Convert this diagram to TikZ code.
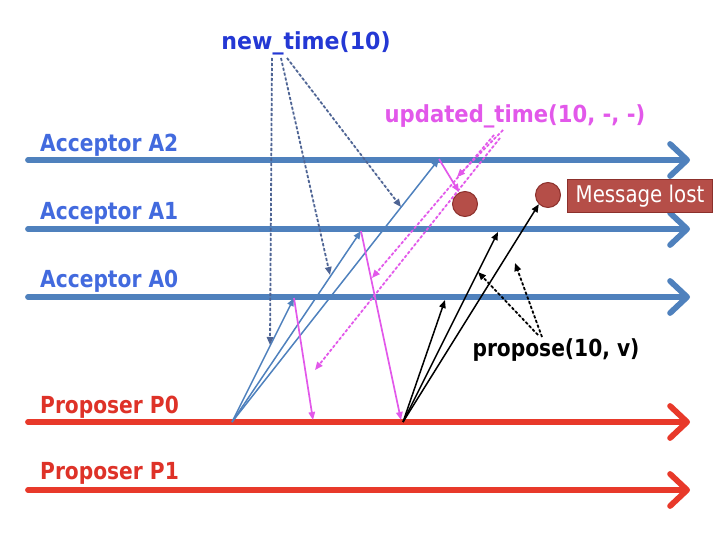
\documentclass[tikz,border=0pt]{standalone}
\usepackage{fontspec}
\setmainfont{DejaVu Sans}[FakeStretch=0.86]
\newfontfamily\widefont{DejaVu Sans}[FakeStretch=0.94]
\newfontfamily\midfont{DejaVu Sans}[FakeStretch=0.90]
\usetikzlibrary{arrows.meta}
\definecolor{lineblue}{RGB}{79,129,189}
\definecolor{labblue}{RGB}{66,106,222}
\definecolor{ntblue}{RGB}{36,56,212}
\definecolor{dashblue}{RGB}{78,100,148}
\definecolor{mag}{RGB}{226,88,234}
\definecolor{tred}{RGB}{232,57,42}
\definecolor{labred}{RGB}{222,50,40}
\definecolor{lostfill}{RGB}{181,78,72}
\definecolor{lostdraw}{RGB}{140,48,44}
\begin{document}
\begin{tikzpicture}[x=1pt,y=-1pt,
  timeline/.style={line width=5.8pt,line cap=round,-{Straight Barb[length=17pt,width=32pt,round]}},
  accline/.style={timeline,draw=lineblue},
  propline/.style={timeline,draw=tred},
  lab/.style={anchor=west,font=\bfseries\fontsize{23.5}{26}\selectfont,inner sep=0pt},
  msg/.style={line width=1.5pt,-{Triangle[length=8pt,width=6.5pt]}},
  bluemsg/.style={msg,draw=lineblue,fill=lineblue},
  magmsg/.style={msg,line width=1.7pt,draw=mag,fill=mag},
  blackmsg/.style={msg,draw=black,fill=black},
  dmsg/.style={line width=1.8pt,dash pattern=on 3pt off 2pt,-{Triangle[length=8pt,width=6.5pt]}},
  dblue/.style={dmsg,draw=dashblue,fill=dashblue},
  dmag/.style={dmsg,draw=mag,fill=mag},
  dblack/.style={dmsg,draw=black,fill=black},
  lostdot/.style={circle,fill=lostfill,draw=lostdraw,line width=1pt,minimum size=25pt,inner sep=0pt}
]
\useasboundingbox (0,0) rectangle (720,540);

% timelines
\coordinate (a2s) at (28,160); \coordinate (a2e) at (690,160);
\coordinate (a1s) at (28,229); \coordinate (a1e) at (690,229);
\coordinate (a0s) at (28,297); \coordinate (a0e) at (690,297);
\coordinate (p0s) at (28,422); \coordinate (p0e) at (690,422);
\coordinate (p1s) at (28,490); \coordinate (p1e) at (690,490);
\draw[accline] (a2s) -- (a2e);
\draw[accline] (a1s) -- (a1e);
\draw[accline] (a0s) -- (a0e);
\draw[propline] (p0s) -- (p0e);
\draw[propline] (p1s) -- (p1e);

% labels
\node[lab,text=labblue] (la2) at (40,145) {Acceptor A2};
\node[lab,text=labblue] (la1) at (40,213) {Acceptor A1};
\node[lab,text=labblue] (la0) at (40,281) {Acceptor A0};
\node[lab,text=labred] (lp0) at (40,407) {Proposer P0};
\node[lab,text=labred] (lp1) at (40,473) {Proposer P1};

% event points
\coordinate (send) at (232,422);
\coordinate (ra0) at (294,298);
\coordinate (ra1) at (361,231);
\coordinate (ra2) at (439,159);
\coordinate (rp0a) at (313,420);
\coordinate (rp0b) at (401,420);
\coordinate (lost1end) at (459,192);
\coordinate (prop) at (403,422);
\coordinate (pa0) at (445,300);
\coordinate (pa1) at (498,232);

% lost markers
\node[lostdot] (lost1) at (465,204) {};
\node[lostdot] (lost2) at (548,195) {};
\node[fill=lostfill,draw=lostdraw,line width=1pt,minimum width=145pt,minimum height=33pt,inner sep=0pt,
  text=white,font=\fontsize{23}{26}\selectfont] (lostbox) at (640,196) {Message lost};

% blue new_time messages
\draw[bluemsg] (send) -- (ra0);
\draw[bluemsg] (send) -- (ra1);
\draw[bluemsg] (send) -- (ra2);

% magenta replies
\draw[magmsg] (ra0) -- (rp0a);
\draw[magmsg] (ra1) -- (rp0b);
\draw[magmsg] (ra2) -- (lost1end);

% black propose messages
\draw[blackmsg] (prop) -- (pa0);
\draw[blackmsg] (prop) -- (pa1);
\draw[blackmsg] (prop) -- (lost2.south west);

% annotation labels
\node[font=\widefont\bfseries\fontsize{23.5}{26}\selectfont,text=ntblue,inner sep=0pt] (nt) at (306,43) {new\_time(10)};
\node[font=\midfont\bfseries\fontsize{23.5}{26}\selectfont,text=mag,inner sep=0pt] (ut) at (515,116) {updated\_time(10, -, -)};
\node[font=\bfseries\fontsize{23.5}{26}\selectfont,text=black,inner sep=0pt] (pr) at (556,350) {propose(10, v)};

% dashed blue pointers
\coordinate (nt1) at (272,58); \coordinate (nt2) at (281,58); \coordinate (nt3) at (287,58);
\coordinate (nte1) at (270,345); \coordinate (nte2) at (330,275); \coordinate (nte3) at (401,207);
\draw[dblue] (nt1) -- (nte1);
\draw[dblue] (nt2) -- (nte2);
\draw[dblue] (nt3) -- (nte3);

% dashed magenta pointers
\coordinate (ut1) at (503,130); \coordinate (ut2) at (494,135); \coordinate (ut3) at (500,138);
\coordinate (ute1) at (457,177); \coordinate (ute2) at (372,278); \coordinate (ute3) at (315,370);
\draw[dmag] (ut1) -- (ute1);
\draw[dmag] (ut2) -- (ute2);
\draw[dmag] (ut3) -- (ute3);

% dashed black pointers
\coordinate (pr1) at (542,337); \coordinate (pr2) at (538,335);
\coordinate (pre1) at (515,263); \coordinate (pre2) at (478,272);
\draw[dblack] (pr1) -- (pre1);
\draw[dblack] (pr2) -- (pre2);
\end{tikzpicture}
\end{document}
